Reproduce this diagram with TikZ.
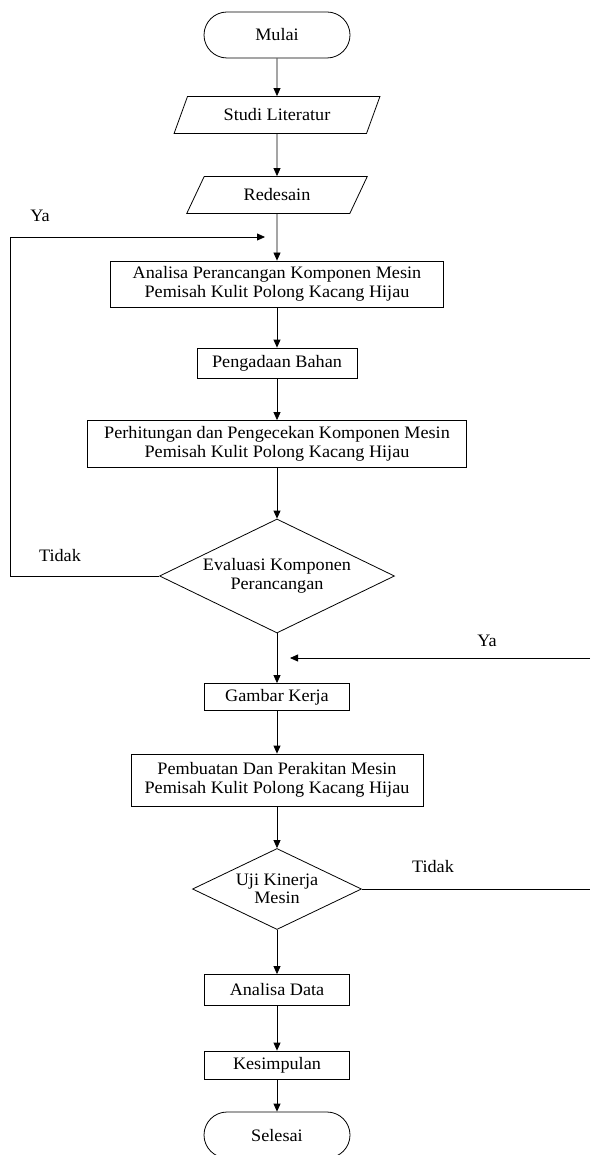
\documentclass[tikz,border=0pt]{standalone}
\usepackage{fontspec}
\setmainfont[FakeStretch=1.04]{Liberation Serif}
\usetikzlibrary{
	shapes,
	arrows.meta,
	positioning
}

\tikzset{
	terminal/.style={draw, rounded rectangle, minimum width=146, minimum height=46, inner sep=0pt},
	datain/.style={draw, trapezium, trapezium left angle=57, trapezium right angle=123,
		trapezium stretches=true, minimum height=37, inner sep=0pt},
	proses/.style={draw, rectangle, align=center, inner sep=0pt},
	keputusan/.style={draw, diamond, align=center, inner sep=0pt},
	label/.style={inner sep=0pt}
}

\begin{document}
\begin{tikzpicture}
[x=1pt, y=-1pt, line width=.8pt, >={Triangle[length=8pt,width=7pt]},
 font=\fontsize{17.5}{18.5}\selectfont]
\useasboundingbox (0,0) rectangle (590,1155);
\def\cx{277}
% alur utama
\node[terminal] (mulai) at (\cx,35) {Mulai};
\node[datain, minimum width=206] (studi) at (\cx,115) {Studi Literatur};
\node[datain, minimum width=182] (redesain) at (\cx,195) {Redesain};
\node[proses, minimum width=333, minimum height=46] (analisa) at (\cx,284) {Analisa Perancangan Komponen Mesin\\Pemisah Kulit Polong Kacang Hijau};
\node[proses, minimum width=160, minimum height=30] (bahan) at (\cx,363) {Pengadaan Bahan};
\node[proses, minimum width=379, minimum height=47] (hitung) at (\cx,444) {Perhitungan dan Pengecekan Komponen Mesin\\Pemisah Kulit Polong Kacang Hijau};
\node[keputusan, minimum width=235, minimum height=114, aspect=2.06] (evaluasi) at (\cx,576) {Evaluasi Komponen\\Perancangan};
\node[proses, minimum width=145, minimum height=27] (gambar) at (\cx,697) {Gambar Kerja};
\node[proses, minimum width=292, minimum height=52] (buat) at (\cx,780) {Pembuatan Dan Perakitan Mesin\\Pemisah Kulit Polong Kacang Hijau};
\node[keputusan, minimum width=169, minimum height=81, aspect=2.09] (uji) at (\cx,889) {Uji Kinerja\\Mesin};
\node[proses, minimum width=145, minimum height=31] (data) at (\cx,990) {Analisa Data};
\node[proses, minimum width=145, minimum height=28] (simpul) at (\cx,1065) {Kesimpulan};
\node[terminal] (selesai) at (\cx,1135) {Selesai};
% keterangan
\node[label] (ya1) at (40,216) {Ya};
\node[label] (tidak1) at (60,556) {Tidak};
\node[label] (ya2) at (487,641) {Ya};
\node[label] (tidak2) at (433,867) {Tidak};
% titik bantu
\coordinate (kiri) at (10,237);
\coordinate (balik) at (265,237);
\coordinate (masuk) at (590,658);
\coordinate (masukujung) at (290,658);
\coordinate (keluar) at (590,889);
% panah
\draw[->] (mulai) -- (studi);
\draw[->] (studi) -- (redesain);
\draw[->] (redesain) -- (analisa);
\draw[->] (analisa) -- (bahan);
\draw[->] (bahan) -- (hitung);
\draw[->] (hitung) -- (evaluasi);
\draw[->] (evaluasi) -- (gambar);
\draw[->] (gambar) -- (buat);
\draw[->] (buat) -- (uji);
\draw[->] (uji) -- (data);
\draw[->] (data) -- (simpul);
\draw[->] (simpul) -- (selesai);
\draw[->] (evaluasi.west) -| (kiri) -- (balik);
\draw[->] (masuk) -- (masukujung);
\draw (uji.east) -- (keluar);
\end{tikzpicture}
\end{document}
